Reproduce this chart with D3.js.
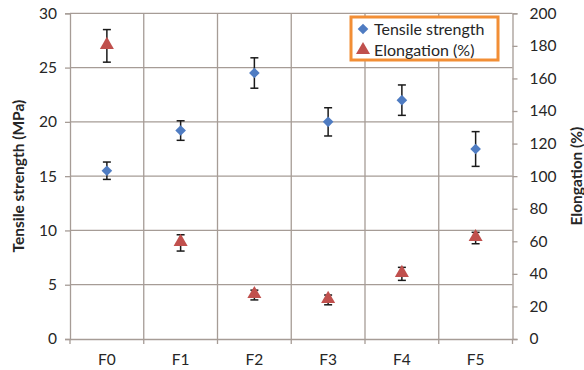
<!DOCTYPE html>
<html>
<head>
<meta charset="utf-8">
<script src="https://cdn.jsdelivr.net/npm/d3@7"></script>
<style>
  body { margin: 0; background: #fff; }
  svg { font-family: Lato, 'Open Sans', sans-serif; }
</style>
</head>
<body>
<svg width="584" height="370"></svg>
<script>
// data
const categories = ['F0', 'F1', 'F2', 'F3', 'F4', 'F5'];
const tensile = [15.5, 19.2, 24.5, 20.0, 22.0, 17.5];
const tensileErr = [0.8, 0.9, 1.4, 1.3, 1.4, 1.6];
const elongation = [180, 59, 27, 24, 40, 62];
const elongationErr = [10, 5, 3, 3, 4, 3.5];
const leftTicks = [0, 5, 10, 15, 20, 25, 30];
const rightTicks = [0, 20, 40, 60, 80, 100, 120, 140, 160, 180, 200];

const svg = d3.select('svg');
const plotLeft = 70, plotRight = 512.5, plotTop = 13.3, plotBottom = 339;
const gridCol = '#a69c96';
const textCol = '#262626';

let x = d3.scaleBand().domain(categories).range([plotLeft, plotRight]);
let yL = d3.scaleLinear().domain([0, 30]).range([plotBottom, plotTop]);
let yR = d3.scaleLinear().domain([0, 200]).range([plotBottom, plotTop]);

// horizontal grid
svg.append('g')
   .selectAll('line')
   .data(leftTicks.slice(1))
   .enter()
   .append('line')
   .attr('x1', plotLeft).attr('x2', plotRight)
   .attr('y1', d => yL(d)).attr('y2', d => yL(d))
   .style('stroke', gridCol)
   .style('stroke-width', '1.3px');

// vertical grid at category boundaries
svg.append('g')
   .selectAll('line')
   .data(categories.slice(1))
   .enter()
   .append('line')
   .attr('x1', d => x(d)).attr('x2', d => x(d))
   .attr('y1', plotTop).attr('y2', plotBottom + 5)
   .style('stroke', gridCol)
   .style('stroke-width', '1.3px');

// axes
const leftAxis = svg.append('g')
   .attr('transform', `translate(${plotLeft},0)`)
   .call(d3.axisLeft(yL).tickValues(leftTicks).tickSize(5).tickPadding(8));
const rightAxis = svg.append('g')
   .attr('transform', `translate(${plotRight},0)`)
   .call(d3.axisRight(yR).tickValues(rightTicks).tickSize(5).tickPadding(12));
const bottomAxis = svg.append('g')
   .attr('transform', `translate(0,${plotBottom})`)
   .call(d3.axisBottom(x).tickSize(0).tickPadding(15));

[leftAxis, rightAxis, bottomAxis].forEach(a => {
  a.select('.domain').style('stroke', gridCol).style('stroke-width', '1.3px');
  a.selectAll('.tick line').style('stroke', gridCol).style('stroke-width', '1.3px');
  a.selectAll('text').style('font-size', '15.5px').style('fill', textCol).style('font-family', 'Lato');
});
// category boundary ticks on the bottom axis
svg.append('g')
   .selectAll('line')
   .data([plotLeft, plotRight])
   .enter()
   .append('line')
   .attr('x1', d => d).attr('x2', d => d)
   .attr('y1', plotBottom).attr('y2', plotBottom + 5)
   .style('stroke', gridCol)
   .style('stroke-width', '1.3px');

function drawErr(vals, errs, yScale) {
  const g = svg.append('g');
  const cx = (d, i) => x(categories[i]) + x.bandwidth() / 2;
  g.selectAll('line.v')
   .data(vals).enter().append('line')
   .attr('x1', cx).attr('x2', cx)
   .attr('y1', (d, i) => yScale(d + errs[i]))
   .attr('y2', (d, i) => yScale(d - errs[i]))
   .style('stroke', '#1a1a1a').style('stroke-width', '1.5px');
  [1, -1].forEach(s => {
    g.selectAll('line.c' + s)
     .data(vals).enter().append('line')
     .attr('x1', (d, i) => cx(d, i) - 4).attr('x2', (d, i) => cx(d, i) + 4)
     .attr('y1', (d, i) => yScale(d + s * errs[i]))
     .attr('y2', (d, i) => yScale(d + s * errs[i]))
     .style('stroke', '#1a1a1a').style('stroke-width', '1.5px');
  });
}

drawErr(tensile, tensileErr, yL);
drawErr(elongation, elongationErr, yR);

const diamond = d3.symbol().type(d3.symbolDiamond2).size(72);
const triangle = d3.symbol().type(d3.symbolTriangle).size(85);

svg.append('g')
   .selectAll('path')
   .data(tensile).enter().append('path')
   .attr('d', diamond)
   .attr('transform', (d, i) => `translate(${x(categories[i]) + x.bandwidth() / 2},${yL(d)})`)
   .style('fill', '#4f7cc2');

svg.append('g')
   .selectAll('path')
   .data(elongation).enter().append('path')
   .attr('d', triangle)
   .attr('transform', (d, i) => `translate(${x(categories[i]) + x.bandwidth() / 2},${yR(d) - 1})`)
   .style('fill', '#c0504d');

// axis titles
svg.append('text')
   .text('Tensile strength (MPa)')
   .attr('transform', `translate(24,${(plotTop + plotBottom) / 2}) rotate(-90)`)
   .style('text-anchor', 'middle')
   .style('font-size', '15.5px')
   .style('font-weight', 'bold')
   .style('fill', textCol);

svg.append('text')
   .text('Elongation (%)')
   .attr('transform', `translate(582,${(plotTop + plotBottom) / 2}) rotate(-90)`)
   .style('text-anchor', 'middle')
   .style('font-size', '15.5px')
   .style('font-weight', 'bold')
   .style('fill', textCol);

// legend
let legendG = svg.append('g').attr('transform', 'translate(351,17)');
legendG.append('rect')
   .attr('width', 147).attr('height', 43)
   .style('fill', '#fff')
   .style('stroke', '#f28e35')
   .style('stroke-width', '3px');
const legItems = [['Tensile strength', diamond, '#4f7cc2'], ['Elongation (%)', triangle, '#c0504d']];
legItems.forEach((it, i) => {
  legendG.append('path')
     .attr('d', it[1])
     .attr('transform', `translate(12,${12 + i * 21})`)
     .style('fill', it[2]);
  legendG.append('text')
     .text(it[0])
     .attr('x', 23).attr('y', 17.5 + i * 21)
     .style('font-size', '16px')
     .style('fill', textCol);
});
</script>
</body>
</html>
